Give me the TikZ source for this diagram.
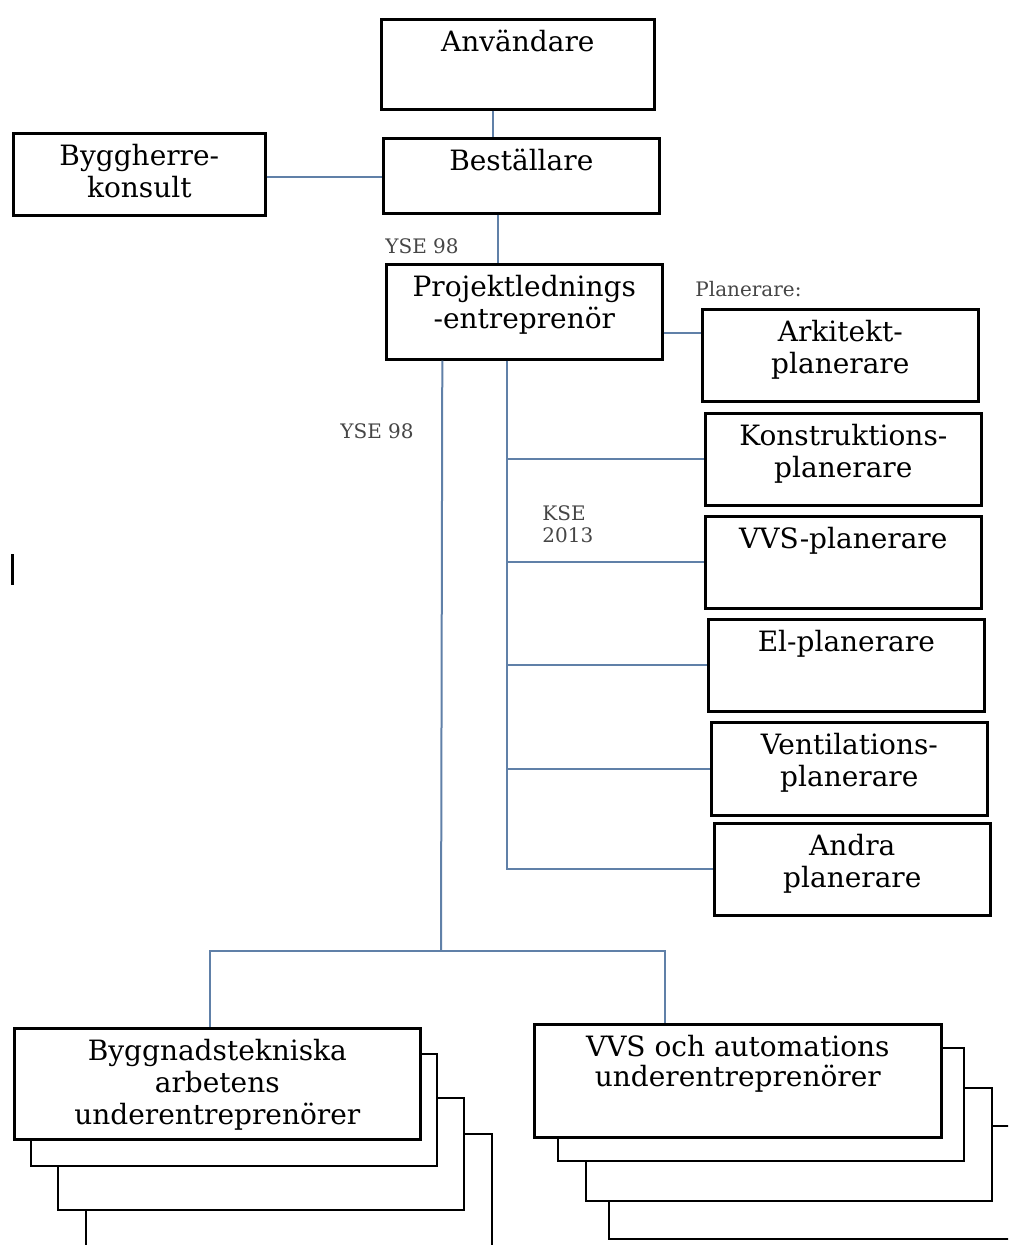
\documentclass[tikz,border=0pt]{standalone}
\usepackage{fontspec}
\setmainfont{DejaVu Serif}
\usetikzlibrary{positioning}
\definecolor{linkblue}{RGB}{96,128,168}
\definecolor{notegray}{RGB}{70,70,70}

\begin{document}
\begin{tikzpicture}[x=0.5pt,y=-0.5pt,
box/.style 2 args={draw=black,line width=1.3pt,fill=white,anchor=north west,
  inner sep=0pt,minimum width=#1,minimum height=#2},
txt/.style={inner sep=0pt,align=center,font=\fontsize{14}{16}\selectfont},
note/.style={inner sep=0pt,text=notegray,font=\fontsize{10}{11}\selectfont},
link/.style={draw=linkblue,line width=1pt},
layer/.style={draw=black,line width=1.3pt,fill=white}
]
\useasboundingbox (0,0) rectangle (1008,1245);
\clip (0,0) rectangle (1008,1245);

% top of the chart
\node[box={136.5pt}{45pt}] (anv) at (380,18) {};
\node[txt,below=6pt of anv.north] (anv-t) {Användare};
\node[box={138pt}{37.5pt}] (best) at (382,137) {};
\node[txt,below=6pt of best.north] (best-t) {Beställare};
\node[box={126pt}{41pt}] (bygg) at (12,132) {};
\node[txt,below=6pt of bygg.north] (bygg-t) {Byggherre-\\konsult};
\node[box={138pt}{47.5pt}] (proj) at (385,263) {};
\node[txt,below=6pt of proj.north] (proj-t) {Projektlednings\\-entreprenör};

% planners
\node[box={138pt}{46pt}] (ark) at (701,308) {};
\node[txt,below=6pt of ark.north] (ark-t) {Arkitekt-\\planerare};
\node[box={138pt}{46pt}] (kon) at (704,412) {};
\node[txt,below=6pt of kon.north] (kon-t) {Konstruktions-\\planerare};
\node[box={138pt}{46pt}] (vvs) at (704,515) {};
\node[txt,below=6pt of vvs.north] (vvs-t) {VVS-planerare};
\node[box={138pt}{46pt}] (el) at (707,618) {};
\node[txt,below=6pt of el.north] (el-t) {El-planerare};
\node[box={138pt}{46.5pt}] (vent) at (710,721) {};
\node[txt,below=6pt of vent.north] (vent-t) {Ventilations-\\planerare};
\node[box={138pt}{46pt}] (andra) at (713,822) {};
\node[txt,below=6pt of andra.north] (andra-t) {Andra\\planerare};

% subcontractors, stacked
\foreach \x/\y in {86/1134,58/1098,31/1054}
  \draw[layer] (\x,\y) rectangle ++(406,112);
\node[box={203pt}{55.5pt}] (lbox) at (13,1027) {};
\node[txt,below=6pt of lbox.north] (lbox-t) {Byggnadstekniska\\arbetens\\underentreprenörer};
\foreach \x/\y in {609/1126,586/1088,558/1048}
  \draw[layer] (\x,\y) rectangle ++(406,113);
\node[box={203.5pt}{56.5pt}] (rbox) at (533,1023) {};
\node[txt,below=6pt of rbox.north,font=\fontsize{14}{15}\selectfont] (rbox-t) {VVS och automations\\underentreprenörer};

% connectors
\coordinate (a1) at ([xshift=-12.25pt]anv.south);
\draw[link] (a1) -- (a1 |- best.north);
\draw[link] ([yshift=-1.5pt]bygg.east) -- ([yshift=-1.5pt]bygg.east -| best.west);
\coordinate (b1) at ([xshift=-11.5pt]best.south);
\draw[link] (b1) -- (b1 |- proj.north);
\coordinate (p1) at ([yshift=-10.75pt]proj.east);
\draw[link] (p1) -- (p1 -| ark.west);

\coordinate (t2) at ([xshift=-8.5pt]proj.south);
\draw[link] (t2) |- (andra.west);
\foreach \n in {kon,vvs,el,vent}
  \draw[link] (t2 |- \n.west) -- (\n.west);

\coordinate (t1) at ([xshift=-41pt]proj.south);
\coordinate (fork) at (441,951);
\coordinate (l1) at ([xshift=-3.5pt]lbox.north);
\coordinate (r1) at ([xshift=-36.25pt]rbox.north);
\draw[link] (t1) -- (fork);
\draw[link] (l1) |- (fork) -| (r1);

% contract labels
\node[note,anchor=west] (yse-a) at (385,246) {YSE 98};
\node[note,anchor=west] (yse-b) at (340,431) {YSE 98};
\node[note,anchor=west,align=left] (kse) at (542,524) {KSE\\2013};
\node[note,anchor=west] (plan) at (695,289) {Planerare:};

\draw[line width=1.5pt] (12,554) -- (12,585);
\end{tikzpicture}
\end{document}
